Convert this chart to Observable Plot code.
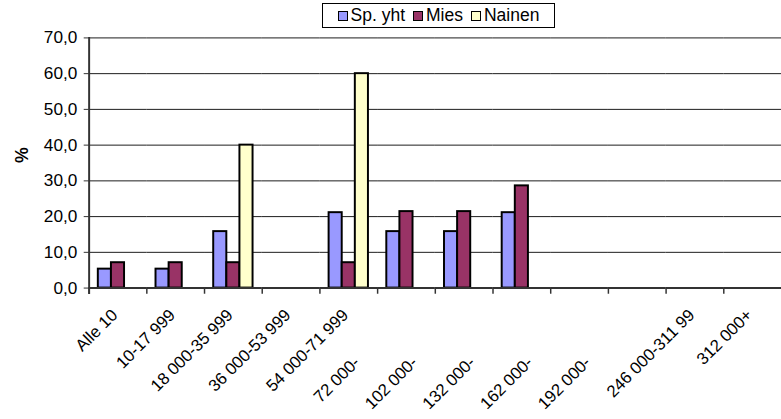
<!DOCTYPE html>
<html>
<head>
<meta charset="utf-8">
<script src="https://cdn.jsdelivr.net/npm/d3@7"></script>
<script src="https://cdn.jsdelivr.net/npm/@observablehq/plot@0.6"></script>
<style>
  html, body { margin: 0; padding: 0; background: #fff; overflow: hidden; }
  #wrap { position: relative; width: 781px; height: 419px; overflow: hidden; background: #fff; }
  #legend {
    position: absolute; left: 322px; top: 3px; width: 233px; height: 25px;
    box-sizing: border-box; border: 1px solid #000; background: #fff;
    display: flex; align-items: center; justify-content: center; gap: 8px;
    font-family: "Liberation Sans", Arial, sans-serif; font-size: 17.5px; color: #000;
  }
  #legend .item { display: flex; align-items: center; gap: 3px; }
  #legend .sw { width: 8px; height: 8px; border: 1.5px solid #000; }
</style>
</head>
<body>
<div id="wrap">
  <div id="chart"></div>
  <div id="legend"></div>
</div>
<script>
// ---- data ----
const categories = ["Alle 10", "10-17 999", "18 000-35 999", "36 000-53 999", "54 000-71 999",
  "72 000-101 999", "102 000-131 999", "132 000-161 999", "162 000-191 999", "192 000-245 999",
  "246 000-311 999", "312 000+"];
const tickLabels = ["Alle 10", "10-17 999", "18 000-35 999", "36 000-53 999", "54 000-71 999",
  "72 000-", "102 000-", "132 000-", "162 000-", "192 000-", "246 000-311 99", "312 000+"];
const series = ["Sp. yht", "Mies", "Nainen"];
const spYht  = [5.3, 5.3, 15.8, 0, 21.1, 15.8, 15.8, 21.1, 0, 0, 0, 0];
const mies   = [7.1, 7.1, 7.1, 0, 7.1, 21.4, 21.4, 28.6, 0, 0, 0, 0];
const nainen = [0, 0, 40.0, 0, 60.0, 0, 0, 0, 0, 0, 0, 0];
const yTicks = [0, 10, 20, 30, 40, 50, 60, 70];
const colors = ["#9999FF", "#993366", "#FFFFCC"];
const yLabel = "%";

const valuesBySeries = [spYht, mies, nainen];
const rows = [];
categories.forEach((c, i) => series.forEach((s, j) => rows.push({cat: c, series: s, value: valuesBySeries[j][i]})));

const wrappedIdx = [5, 6, 7, 8, 9];
const labelIdx = categories.map((c, i) => i);

const marginTop = 38, marginBottom = 127, H = 419;
const plotH = H - marginTop - marginBottom;
const fmt = d => d3.format(".1f")(d).replace(".", ",");
const font = '"Liberation Sans", Arial, sans-serif';
const fs = 17.5, xfs = 17;

const chart = Plot.plot({
  width: 793,
  height: H,
  marginLeft: 90,
  marginRight: 0,
  marginTop,
  marginBottom,
  style: {fontFamily: font, fontSize: fs + "px", background: "transparent", color: "#000"},
  fx: {domain: categories, padding: 0, axis: null, round: false},
  x: {domain: series, paddingInner: 0, paddingOuter: 0.7, axis: null, round: false},
  y: {domain: [0, 70], axis: null},
  color: {domain: series, range: colors},
  marks: [
    Plot.gridY({ticks: yTicks.filter(t => t > 0), stroke: "#000", strokeOpacity: 0.9, strokeWidth: 1}),
    Plot.barY(rows, {filter: d => d.value > 0, fx: "cat", x: "series", y: "value", fill: "series", stroke: "#000", strokeWidth: 2}),
    Plot.ruleY([0], {stroke: "#333", strokeWidth: 2}),
    Plot.frame({anchor: "left", insetTop: plotH, insetBottom: -5, stroke: "#333", strokeWidth: 1.5}),
    Plot.frame({anchor: "left", facetAnchor: "left", insetBottom: -5, stroke: "#333", strokeWidth: 2}),
    Plot.axisY({ticks: yTicks, tickFormat: fmt, tickSize: 5, tickPadding: 7, fontSize: fs, label: null, stroke: "#333"}),
    Plot.text(labelIdx.filter(i => !wrappedIdx.includes(i)), {
      fx: i => categories[i], text: i => tickLabels[i], frameAnchor: "bottom",
      rotate: -45, textAnchor: "end", lineAnchor: "top", dx: -8, dy: 20, fontSize: xfs
    }),
    Plot.text(wrappedIdx, {
      fx: i => categories[i], text: i => tickLabels[i], frameAnchor: "bottom",
      rotate: -45, textAnchor: "end", lineAnchor: "top", dx: -55, dy: 68, fontSize: xfs
    }),
    Plot.text([yLabel], {frameAnchor: "left", facetAnchor: "left", rotate: -90, dx: -68, fontWeight: "bold", fontSize: 18})
  ]
});
document.getElementById("chart").appendChild(chart);

// legend
const legend = document.getElementById("legend");
series.forEach((s, j) => {
  const item = document.createElement("div");
  item.className = "item";
  const sw = document.createElement("span");
  sw.className = "sw";
  sw.style.background = colors[j];
  const t = document.createElement("span");
  t.textContent = s;
  item.appendChild(sw);
  item.appendChild(t);
  legend.appendChild(item);
});
</script>
</body>
</html>
